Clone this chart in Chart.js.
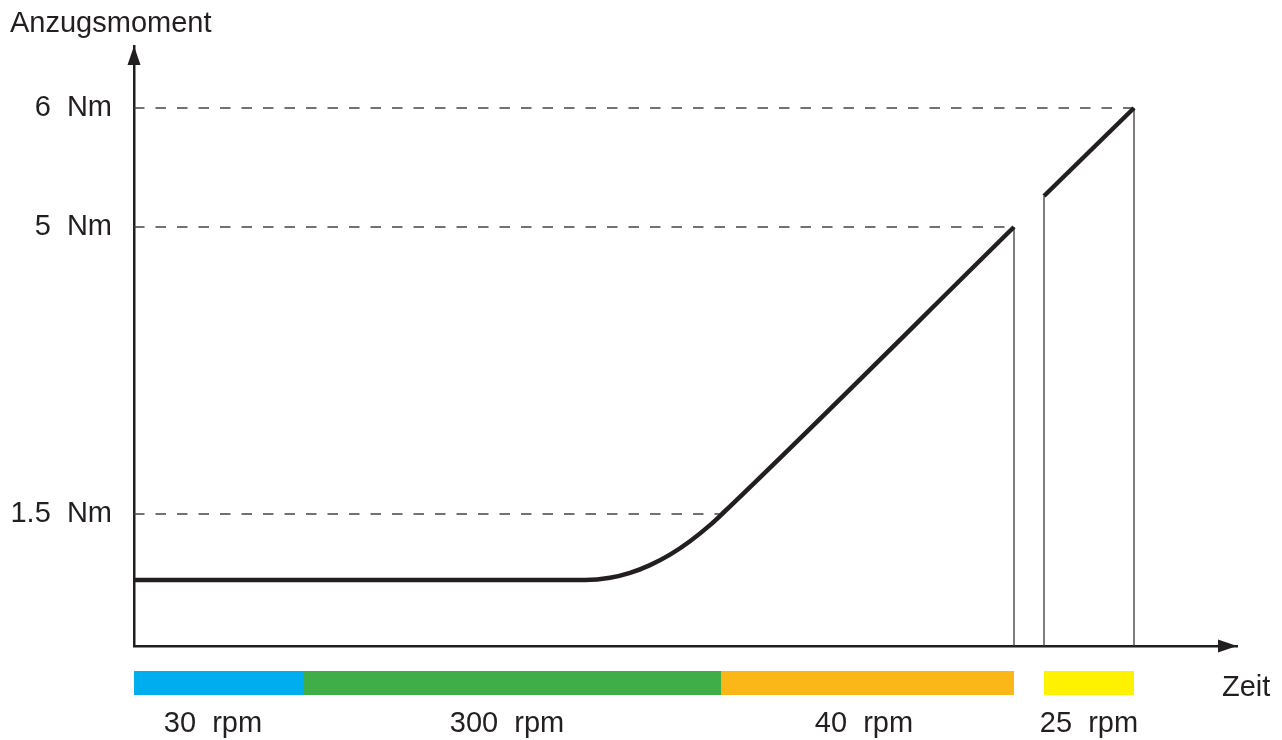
<!DOCTYPE html>
<html>
<head>
<meta charset="utf-8">
<script src="https://cdn.jsdelivr.net/npm/chart.js@4.4.1/dist/chart.umd.min.js"></script>
<style>
  html, body { margin: 0; padding: 0; background: #ffffff; }
  canvas { display: block; }
</style>
</head>
<body>
<canvas id="c" width="1282" height="740"></canvas>
<script>
// ---- Data (schematic time units / schematic torque levels) ----
const yAxisTitle = 'Anzugsmoment';
const xAxisTitle = 'Zeit';

// torque tick levels (schematic positions) and their labels
const torqueTickLevels = [1.32, 4.19, 5.38];
const torqueTickLabels = ['1.5  Nm', '5  Nm', '6  Nm'];

// main torque curve, phase 1 (30 / 300 / 40 rpm)
const curveTime1  = [0, 45.1, 47.6, 49.6, 51.6, 53.6, 55.6, 57.6, 58.8, 88.0];
const curveLevel1 = [0.66, 0.66, 0.682, 0.731, 0.809, 0.914, 1.048, 1.209, 1.32, 4.19];
// main torque curve, phase 2 (25 rpm)
const curveTime2  = [91.0, 100.0];
const curveLevel2 = [4.50, 5.38];

// reference (dashed) lines: end time for each torque tick level
const refLineEnd = [58.8, 88.0, 100.0];
// vertical drop lines: time and top level
const dropTime  = [88.0, 91.0, 100.0];
const dropLevel = [4.19, 4.50, 5.38];

// speed phases
const phaseStart  = [0, 16.9, 58.7, 91.0];
const phaseEnd    = [16.9, 58.7, 88.0, 100.0];
const phaseLabelTime = [7.9, 37.3, 73.0, 95.5];
const phaseLabels = ['30  rpm', '300  rpm', '40  rpm', '25  rpm'];
const phaseColors = ['#00aeef', '#3fae49', '#fbb617', '#fff200'];

const xMax = 110.3;
const yMax = 6.0;

const INK = '#231f20';
const FONT = "'Liberation Sans', Arial, Helvetica, sans-serif";
const FSIZE = 29;

const datasets = [];
datasets.push({
  data: curveTime1.map((t, i) => ({x: t, y: curveLevel1[i]})),
  borderColor: INK, borderWidth: 4.5, pointRadius: 0, fill: false,
  cubicInterpolationMode: 'monotone'
});
datasets.push({
  data: curveTime2.map((t, i) => ({x: t, y: curveLevel2[i]})),
  borderColor: INK, borderWidth: 4.5, pointRadius: 0, fill: false
});
dropTime.forEach((t, i) => {
  datasets.push({
    data: [{x: t, y: dropLevel[i]}, {x: t, y: 0}],
    borderColor: '#3a3a3a', borderWidth: 1.3, pointRadius: 0, fill: false
  });
});
torqueTickLevels.forEach((lv, i) => {
  datasets.push({
    data: [{x: 0, y: lv}, {x: refLineEnd[i], y: lv}],
    borderColor: '#444444', borderWidth: 1.3, borderDash: [10.5, 11],
    pointRadius: 0, fill: false
  });
});

const decor = {
  id: 'decor',
  afterDraw(chart) {
    const ctx = chart.ctx;
    const xs = chart.scales.x, ys = chart.scales.y;
    const L = xs.left, R = xs.right, B = ys.bottom, T = ys.top;
    ctx.save();
    // arrowheads
    ctx.fillStyle = INK;
    ctx.beginPath();
    ctx.moveTo(L, T); ctx.lineTo(L - 6.5, T + 19); ctx.lineTo(L + 6.5, T + 19); ctx.closePath();
    ctx.fill();
    ctx.beginPath();
    ctx.moveTo(R, B); ctx.lineTo(R - 19, B - 6.5); ctx.lineTo(R - 19, B + 6.5); ctx.closePath();
    ctx.fill();
    // speed phase bands
    phaseStart.forEach((s, i) => {
      const x0 = xs.getPixelForValue(s), x1 = xs.getPixelForValue(phaseEnd[i]);
      ctx.fillStyle = phaseColors[i];
      ctx.fillRect(x0, B + 25, x1 - x0, 24);
    });
    // titles
    ctx.fillStyle = INK;
    ctx.font = FSIZE + 'px ' + FONT;
    ctx.textBaseline = 'alphabetic';
    ctx.textAlign = 'left';
    ctx.fillText(yAxisTitle, 10, 32);
    ctx.fillText(xAxisTitle, 1222, 696);
    ctx.restore();
  }
};

new Chart(document.getElementById('c'), {
  type: 'line',
  data: { datasets },
  plugins: [decor],
  options: {
    responsive: false,
    animation: false,
    events: [],
    layout: { padding: { left: 0, right: 45, top: 46, bottom: 0 } },
    plugins: { legend: { display: false }, tooltip: { enabled: false }, title: { display: false } },
    scales: {
      x: {
        type: 'linear', min: 0, max: xMax,
        grid: { display: false, drawTicks: false },
        border: { display: true, color: INK, width: 2.5 },
        afterFit(s) { s.height = 94; },
        afterBuildTicks(s) {
          s.ticks = phaseLabelTime.map(v => ({ value: v }));
        },
        ticks: {
          autoSkip: false, maxRotation: 0, padding: 61, color: INK,
          font: { family: FONT, size: FSIZE },
          callback: (v, i) => phaseLabels[i]
        }
      },
      y: {
        type: 'linear', min: 0, max: yMax,
        grid: { display: false, drawTicks: false },
        border: { display: true, color: INK, width: 2.5 },
        afterFit(s) { s.width = 134; },
        afterBuildTicks(s) {
          s.ticks = torqueTickLevels.map(v => ({ value: v }));
        },
        ticks: {
          autoSkip: false, padding: 22, color: INK,
          font: { family: FONT, size: FSIZE },
          callback: (v, i) => torqueTickLabels[i]
        }
      }
    }
  }
});
</script>
</body>
</html>
